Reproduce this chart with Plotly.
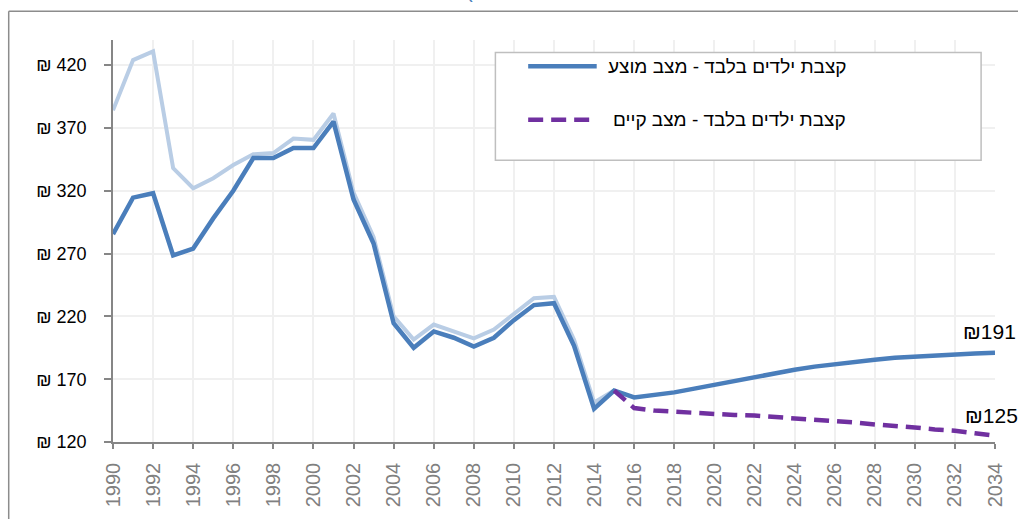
import plotly.graph_objects as go

# --- data -------------------------------------------------------------
years_hist = list(range(1990, 2016))
years_all = list(range(1990, 2035))
years_proj = list(range(2015, 2035))

# light blue background series (1990-2015)
light_hist = [384, 424, 431, 338, 322, 330, 340.5, 349, 350, 361.5, 360.5, 381.5,
              318.5, 283, 220, 201.5, 213.5, 208, 202.5, 209.5, 222.5, 234.5,
              235.5, 201.5, 151.5, 161]

# proposed plan (history + projection)
proposed = [285.5, 314.5, 318, 268.5, 274, 298, 320, 346, 346, 354, 354, 375,
            313, 278, 214.5, 195, 208, 203, 196, 203, 217, 229, 230.5, 196.5,
            146.5, 161,
            155.5, 157.5, 159.5, 162.5, 165.5, 169, 172, 175, 177.5, 180, 182,
            184, 185.5, 187, 188, 189, 190, 190.5, 191]

# current situation projection
current = [161, 147, 145, 144, 143, 142, 141.5, 141, 140, 139, 138, 137, 135.5,
           134, 133, 131.5, 130, 129, 127, 125]

y_ticks = [120, 170, 220, 270, 320, 370, 420]
y_tick_text = ["₪ %d" % v for v in y_ticks]

name_proposed = "קצבת ילדים בלבד - מצב מוצע"
name_current = "קצבת ילדים בלבד - מצב קיים"

C_DARK = "#4A7EBB"
C_LIGHT = "#B9CDE5"
C_PURPLE = "#7030A0"
C_AXIS = "#868686"
FONT = "Liberation Sans, Arial, sans-serif"

# --- layout geometry (pixels) ------------------------------------------
W, H = 1018, 519
L, R, T, B = 113, 17, 40, 72
PW, PH = W - L - R, H - T - B


def px(xp):
    return (xp - L) / PW


def py(yp):
    return (H - B - yp) / PH


fig = go.Figure()

fig.add_trace(go.Scatter(x=years_hist, y=light_hist, mode="lines",
                         line=dict(color=C_LIGHT, width=4), showlegend=False,
                         hoverinfo="skip"))
fig.add_trace(go.Scatter(x=years_all, y=proposed, mode="lines", name=name_proposed,
                         line=dict(color=C_DARK, width=4.5), showlegend=False))
fig.add_trace(go.Scatter(x=years_proj, y=current, mode="lines", name=name_current,
                         line=dict(color=C_PURPLE, width=4.5, dash="15px,8px"),
                         showlegend=False))

shapes = []
# outer chart frame
frame_x = px(8)
frame_y = py(11)
shapes.append(dict(type="line", xref="paper", yref="paper", x0=frame_x, x1=1.05,
                   y0=frame_y, y1=frame_y, line=dict(color="#8C8C8C", width=1.5)))
shapes.append(dict(type="line", xref="paper", yref="paper", x0=frame_x, x1=frame_x,
                   y0=frame_y, y1=-0.3, line=dict(color="#8C8C8C", width=1.5)))

# legend box
shapes.append(dict(type="rect", xref="paper", yref="paper", layer="above",
                   x0=px(498), x1=px(987), y0=py(161.7), y1=py(52.7),
                   fillcolor="white", line=dict(color="#BFBFBF", width=1.5)))
shapes.append(dict(type="line", xref="paper", yref="paper", layer="above",
                   x0=px(531), x1=px(600), y0=py(66.7), y1=py(66.7),
                   line=dict(color=C_DARK, width=4.5)))
shapes.append(dict(type="line", xref="paper", yref="paper", layer="above",
                   x0=px(531), x1=px(596), y0=py(120.7), y1=py(120.7),
                   line=dict(color=C_PURPLE, width=4.5, dash="15px,8px")))

annotations = [
    dict(xref="paper", yref="paper", x=px(853), y=py(66.7), xanchor="right",
         yanchor="middle", text=name_proposed, showarrow=False,
         font=dict(family=FONT, size=19, color="#000000")),
    dict(xref="paper", yref="paper", x=px(853), y=py(120.7), xanchor="right",
         yanchor="middle", text=name_current, showarrow=False,
         font=dict(family=FONT, size=19, color="#000000")),
    # end-of-series value labels
    dict(x=years_all[-1], y=proposed[-1], xanchor="left", yanchor="middle",
         xshift=-34, yshift=21, text="₪%d" % proposed[-1], showarrow=False,
         font=dict(family=FONT, size=21, color="#000000")),
    dict(x=years_proj[-1], y=current[-1], xanchor="left", yanchor="middle",
         xshift=-32, yshift=20, text="₪%d" % current[-1], showarrow=False,
         font=dict(family=FONT, size=21, color="#000000")),
    # title line (above the visible area)
    dict(xref="paper", yref="paper", x=px(466), y=py(4), xanchor="left",
         yanchor="bottom", text="(", showarrow=False,
         font=dict(family=FONT, size=20, color=C_DARK)),
]

fig.update_layout(
    width=W, height=H, autosize=False,
    margin=dict(l=L, r=R, t=T, b=B, pad=0),
    paper_bgcolor="white", plot_bgcolor="white",
    font=dict(family=FONT),
    showlegend=False,
    shapes=shapes,
    annotations=annotations,
    xaxis=dict(range=[1990, 2034], tick0=1990, dtick=2, tickmode="linear",
               showgrid=True, gridcolor="#F0F0F0", gridwidth=2,
               showline=True, linecolor=C_AXIS, linewidth=1.5,
               ticks="outside", ticklen=5, tickcolor=C_AXIS, tickwidth=1.5,
               tickangle=-90, tickfont=dict(family=FONT, size=20, color="#808080"),
               ticklabelstandoff=6, zeroline=False),
    yaxis=dict(range=[120, 440], tickmode="array", tickvals=y_ticks,
               ticktext=y_tick_text,
               showgrid=True, gridcolor="#F0F0F0", gridwidth=2,
               showline=True, linecolor=C_AXIS, linewidth=1.5,
               ticks="outside", ticklen=7, tickcolor=C_AXIS, tickwidth=1.5,
               tickfont=dict(family=FONT, size=18, color="#000000"),
               ticklabelstandoff=14, zeroline=False),
)

fig.write_html("out.html")
